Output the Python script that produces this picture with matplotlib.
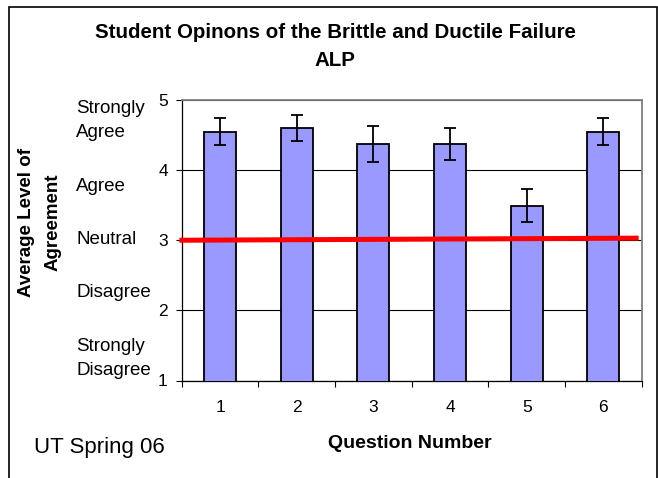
import matplotlib
matplotlib.use("Agg")
import matplotlib.pyplot as plt
import matplotlib.transforms as mtransforms
from matplotlib.patches import Rectangle

plt.rcParams['font.family'] = ['Liberation Sans', 'DejaVu Sans']

# ---- data ----
questions = [1, 2, 3, 4, 5, 6]
question_labels = ["1", "2", "3", "4", "5", "6"]
mean_agreement = [4.55, 4.60, 4.37, 4.37, 3.49, 4.55]
error_half = [0.19, 0.19, 0.26, 0.23, 0.235, 0.19]
neutral_x = [0.47, 6.46]
neutral_y = [3.00, 3.03]
y_ticks = [1, 2, 3, 4, 5]
scale_labels = ["Strongly\nAgree", "Agree", "Neutral", "Disagree", "Strongly\nDisagree"]
scale_label_pos = [4.71, 3.76, 3.01, 2.26, 1.31]

W, H = 658, 478
fig = plt.figure(figsize=(W / 100, H / 100), dpi=100)
ax = fig.add_axes([181.7 / W, 1 - 380.5 / H, (641.7 - 181.7) / W, (380.5 - 100) / H])

ax.bar(questions, mean_agreement, width=0.42, color="#9999FF", edgecolor="black",
       linewidth=1.3, zorder=3)
ax.errorbar(questions, mean_agreement, yerr=error_half, fmt="none", ecolor="black",
            elinewidth=1.3, capsize=4.2, capthick=1.3, zorder=4)
ax.plot(neutral_x, neutral_y, color="#FF0000", linewidth=3.6, zorder=5,
        solid_capstyle="butt", clip_on=False)

ax.set_xlim(0.5, 6.5)
ax.set_ylim(1, 5)
ax.set_yticks(y_ticks)
ax.set_yticklabels([str(v) for v in y_ticks], fontsize=12.5)
ax.yaxis.grid(True, color="black", linewidth=0.8, zorder=0)
ax.set_axisbelow(True)

ax.set_xticks([q - 0.5 for q in questions] + [questions[-1] + 0.5])
ax.set_xticklabels([])
ax.set_xticks(questions, minor=True)
ax.set_xticklabels(question_labels, minor=True, fontsize=12.5)
ax.tick_params(axis="x", which="major", direction="out", length=4, width=0.8)
ax.tick_params(axis="x", which="minor", length=0, pad=14)
ax.tick_params(axis="y", direction="out", length=4, width=0.8, pad=6)

for s in ["top", "right"]:
    ax.spines[s].set_color("#808080")
    ax.spines[s].set_linewidth(1.3)
for s in ["left", "bottom"]:
    ax.spines[s].set_color("black")
    ax.spines[s].set_linewidth(0.9)

# scale labels on left
tr = mtransforms.blended_transform_factory(fig.transFigure, ax.transData)
for lab, pos in zip(scale_labels, scale_label_pos):
    fig.text(76 / W, pos, lab, transform=tr, ha="left", va="center", fontsize=13.5,
             linespacing=1.55)

# y axis title
fig.text(40 / W, 1 - 222 / H, "Average Level of\nAgreement", rotation=90, ha="center",
         va="center", fontsize=13.5, fontweight="bold", linespacing=1.75)

# title
fig.text(335 / W, 1 - 33 / H, "Student Opinons of the Brittle and Ductile Failure",
         ha="center", va="center", fontsize=14.8, fontweight="bold")
fig.text(335 / W, 1 - 61 / H, "ALP", ha="center", va="center", fontsize=14.8,
         fontweight="bold")

fig.text(410 / W, 1 - 444 / H, "Question Number", ha="center", va="center",
         fontsize=14, fontweight="bold")
fig.text(99 / W, 1 - 447 / H, "UT Spring 06", ha="center", va="center", fontsize=16)

fig.patches.append(Rectangle((9 / W, -0.1), (656.5 - 9) / W, 1.1 - 7 / H,
                             transform=fig.transFigure, fill=False,
                             edgecolor="black", linewidth=1.2))

fig.savefig("out.png", dpi=100)
